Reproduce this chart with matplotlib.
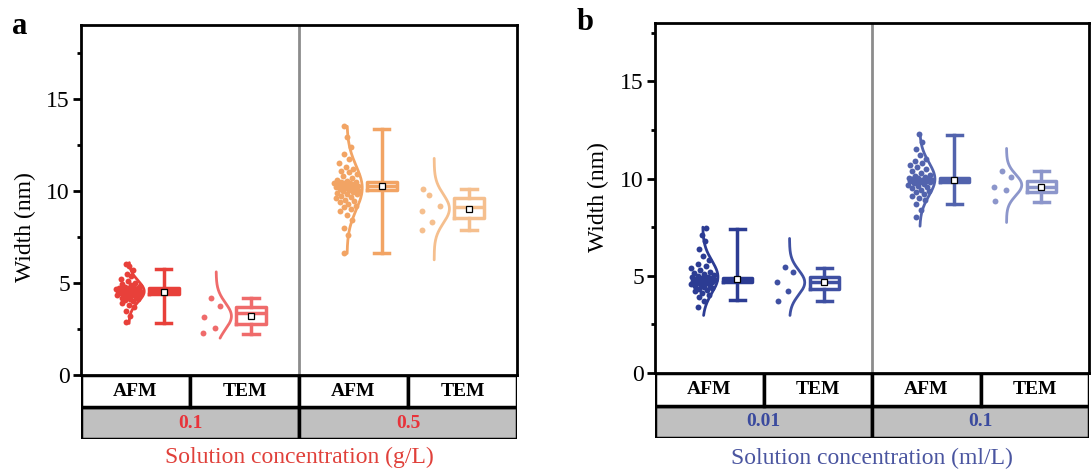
import numpy as np
import matplotlib

matplotlib.use("Agg")
import matplotlib.pyplot as plt
from matplotlib.patches import Rectangle

plt.rcParams.update({
    "font.family": ["Liberation Serif", "DejaVu Serif"],
    "mathtext.fontset": "stix",
})

# ---- data (nm) ----
methods = ["AFM", "TEM", "AFM", "TEM"]
conc_a = ["0.1", "0.5"]
conc_b = ["0.01", "0.1"]

afm_a1 = [2.9, 3.2, 3.5, 3.7, 3.8, 3.9, 4.0, 4.05, 4.1, 4.15, 4.2, 4.25, 4.3, 4.32,
          4.35, 4.38, 4.4, 4.42, 4.44, 4.45, 4.47, 4.48, 4.5, 4.5, 4.52, 4.53, 4.55,
          4.55, 4.56, 4.58, 4.6, 4.6, 4.62, 4.63, 4.65, 4.66, 4.68, 4.7, 4.72, 4.73,
          4.75, 4.8, 4.85, 4.9, 4.95, 5.0, 5.1, 5.2, 5.35, 5.5, 5.7, 5.9, 6.05]
tem_a1 = [2.26, 2.57, 3.17, 3.77, 4.2]
afm_a2 = [6.6, 7.6, 8.0, 8.4, 8.7, 8.9, 9.0, 9.1, 9.2, 9.3, 9.4, 9.45, 9.5, 9.6,
          9.65, 9.7, 9.8, 9.85, 9.9, 9.95, 10.0, 10.0, 10.05, 10.1, 10.1, 10.15,
          10.2, 10.2, 10.25, 10.25, 10.3, 10.3, 10.35, 10.4, 10.4, 10.45, 10.5, 10.5,
          10.55, 10.6, 10.7, 10.8, 10.9, 11.0, 11.1, 11.2, 11.3, 11.5, 11.7, 12.0,
          12.4, 12.9, 13.5]
tem_a2 = [7.88, 8.28, 8.93, 9.18, 9.78, 10.1]

afm_b1 = [3.4, 3.7, 3.9, 4.0, 4.1, 4.2, 4.25, 4.3, 4.35, 4.4, 4.45, 4.5, 4.55, 4.6,
          4.62, 4.65, 4.68, 4.7, 4.72, 4.75, 4.78, 4.8, 4.82, 4.85, 4.87, 4.9, 4.92,
          4.95, 5.0, 5.05, 5.1, 5.15, 5.2, 5.3, 5.4, 5.5, 5.6, 5.8, 6.0, 6.4, 6.8,
          7.1, 7.45]
tem_b1 = [3.72, 4.23, 4.66, 5.2, 5.47]
afm_b2 = [8.0, 8.4, 8.7, 8.9, 9.0, 9.1, 9.2, 9.3, 9.35, 9.4, 9.5, 9.55, 9.6, 9.65,
          9.7, 9.75, 9.8, 9.82, 9.85, 9.88, 9.9, 9.92, 9.95, 9.98, 10.0, 10.02,
          10.05, 10.1, 10.15, 10.2, 10.3, 10.4, 10.5, 10.6, 10.7, 10.8, 10.9, 11.0,
          11.2, 11.5, 11.9, 12.3]
tem_b2 = [8.83, 9.42, 9.59, 10.1, 10.39]

# box stats: whislo, q1, med, q3, whishi, mean
box_a = [[2.83, 4.40, 4.58, 4.73, 5.76, 4.51],
         [2.23, 2.75, 3.35, 3.71, 4.20, 3.22],
         [6.63, 10.02, 10.25, 10.50, 13.37, 10.24],
         [7.88, 8.50, 9.10, 9.60, 10.09, 9.00]]
box_b = [[3.77, 4.66, 4.80, 4.91, 7.43, 4.83],
         [3.72, 4.32, 4.66, 4.95, 5.42, 4.70],
         [8.69, 9.80, 9.95, 10.05, 12.26, 9.93],
         [8.79, 9.30, 9.57, 9.85, 10.39, 9.59]]

# extent of the distribution curves
curve_a = [[2.8, 6.1], [2.0, 5.6], [6.6, 13.5], [6.25, 11.76]]
curve_b = [[2.96, 7.5], [2.96, 6.92], [7.55, 12.3], [7.74, 11.55]]

colors_a = ["#e8403a", "#ef6b6b", "#f2a464", "#f5bf8e"]
colors_b = ["#2c3c93", "#3f50a2", "#5263ad", "#8c96cb"]

W, H = 1091, 474
fig = plt.figure(figsize=(W / 100, H / 100), dpi=100)


def px_axes(l, t, r, b):
    return fig.add_axes([l / W, 1 - b / H, (r - l) / W, (b - t) / H])


def draw_panel(box, series, curves, colors, ymax, rect, tab_rect, groups, gcolor):
    ax = px_axes(*rect)
    for i, (vals, st, cr, c) in enumerate(zip(series, box, curves, colors)):
        vals = np.asarray(vals)
        afm = i % 2 == 0
        spine = i + 0.5 + (-0.06 if afm else -0.26)
        bpos = i + 0.5 + (0.26 if afm else 0.06)
        mu, sd = vals.mean(), vals.std()
        # half distribution curve
        ys = np.linspace(cr[0], cr[1], 200)
        ax.plot(spine + 0.14 * np.exp(-0.5 * ((ys - mu) / sd) ** 2), ys,
                color=c, lw=2, solid_capstyle="round")
        # points, spread inside the curve
        pdfn = np.exp(-0.5 * ((vals - mu) / sd) ** 2)
        offs = (np.arange(len(vals)) * 0.618034) % 1 - 0.5
        w = 0.24 if afm else 0.28
        shift = 0.0 if afm else -0.04
        ax.scatter(spine + shift + offs * w * (0.25 + 0.75 * pdfn), vals, s=18,
                   color=c, lw=0, zorder=3)
        stats = [dict(whislo=st[0], q1=st[1], med=st[2], q3=st[3],
                      whishi=st[4], mean=st[5], fliers=[])]
        ax.bxp(stats, positions=[bpos], widths=0.27, capwidths=0.14,
               showmeans=True, showfliers=False, manage_ticks=False,
               boxprops=dict(color=c, lw=2.5),
               whiskerprops=dict(color=c, lw=2.5),
               capprops=dict(color=c, lw=2.5),
               medianprops=dict(color=c, lw=2.5),
               meanprops=dict(marker="s", markersize=4, markerfacecolor="white",
                              markeredgecolor="black", markeredgewidth=0.9))
    ax.axvline(2, color="#8c8c8c", lw=2)
    ax.set_xlim(0, 4)
    ax.set_ylim(0, ymax)
    ax.set_xticks([])
    ax.set_yticks([0, 5, 10, 15])
    ax.set_yticks([2.5, 7.5, 12.5, 17.5], minor=True)
    ax.tick_params(axis="y", direction="out", length=6, width=2, labelsize=17,
                   pad=2)
    ax.tick_params(axis="y", which="minor", length=3, width=2)
    for s in ax.spines.values():
        s.set_linewidth(2)

    # two-row category table under the axes
    tb = px_axes(*tab_rect)
    tb.set_xlim(0, 4)
    tb.set_ylim(0, 2)
    tb.axis("off")
    for g in range(2):
        tb.add_patch(Rectangle((2 * g, 0), 2, 1, facecolor="#c0c0c0",
                               edgecolor="black", lw=2.5))
        tb.add_patch(Rectangle((2 * g, 1), 1, 1, facecolor="white",
                               edgecolor="black", lw=2.5))
        tb.add_patch(Rectangle((2 * g + 1, 1), 1, 1, facecolor="white",
                               edgecolor="black", lw=2.5))
        tb.text(2 * g + 1, 0.5, groups[g], ha="center", va="center",
                fontsize=14, fontweight="bold", color=gcolor)
    for i, m in enumerate(methods):
        tb.text(i + 0.5, 1.5, m, ha="center", va="center", fontsize=14,
                fontweight="bold")
    return ax


draw_panel(box_a, [afm_a1, tem_a1, afm_a2, tem_a2], curve_a, colors_a, 19,
           (81, 25, 517, 375), (81, 375, 517, 439), conc_a, "#e8333a")
draw_panel(box_b, [afm_b1, tem_b1, afm_b2, tem_b2], curve_b, colors_b, 18,
           (655, 23, 1089, 373), (655, 373, 1089, 438), conc_b, "#3a4a9e")

fig.text(25 / W, 1 - 227 / H, "Width (nm)", rotation=90, ha="center",
         va="center", fontsize=17)
fig.text(598 / W, 1 - 197 / H, "Width (nm)", rotation=90, ha="center",
         va="center", fontsize=17)
fig.text(299 / W, 1 - 457 / H, "Solution concentration (g/L)", ha="center",
         va="center", fontsize=17, color="#e0403a")
fig.text(872 / W, 1 - 458 / H, "Solution concentration (ml/L)", ha="center",
         va="center", fontsize=17, color="#4a55a0")
fig.text(20 / W, 1 - 26 / H, "a", ha="center", va="center", fontsize=22,
         fontweight="bold")
fig.text(585 / W, 1 - 22 / H, "b", ha="center", va="center", fontsize=22,
         fontweight="bold")

fig.savefig("out.png", dpi=100)
